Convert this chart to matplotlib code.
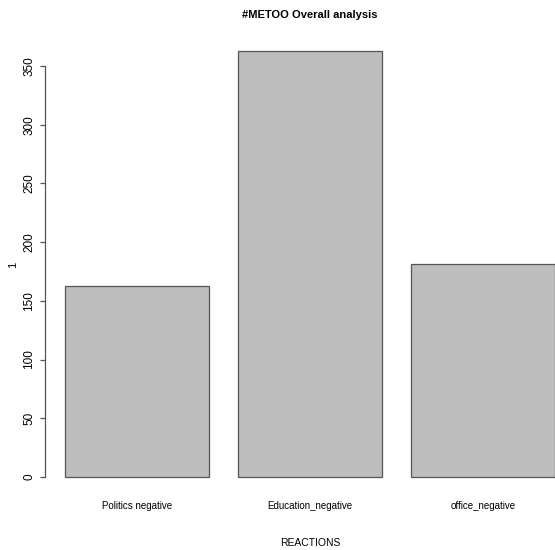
import matplotlib.pyplot as plt

# reaction counts
reactions = ['Politics negative', 'Education_negative', 'office_negative']
counts = [163, 363, 181]
yticks = [0, 50, 100, 150, 200, 250, 300, 350]

plt.rcParams['font.family'] = ['Liberation Sans', 'DejaVu Sans']

fig = plt.figure(figsize=(5.55, 5.5), dpi=100)
# R barplot layout: width 1, space 0.2, plot region runs past the right edge
ax = fig.add_axes([45.4/555, 56/550, (575-45.4)/555, 460.3/550])

x = [0.2 + 0.5 + i*1.2 for i in range(len(reactions))]
ax.bar(x, counts, width=1.0, color='#bebebe', edgecolor='#555555', linewidth=0.9)

ax.set_xlim(0.064, 3.736)
ax.set_ylim(-14.5, 377.5)

for s in ['top', 'right', 'bottom']:
    ax.spines[s].set_visible(False)
ax.spines['left'].set_bounds(0, 350)
ax.spines['left'].set_color('#555555')
ax.spines['left'].set_linewidth(0.9)

ax.set_yticks(yticks)
ax.set_yticklabels([str(v) for v in yticks], rotation=90, va='center', fontsize=8.5)
ax.tick_params(axis='y', length=3.6, width=0.9, color='#555555', pad=3.6)

ax.set_xticks(x)
ax.set_xticklabels(reactions, fontsize=7)
ax.tick_params(axis='x', length=0, pad=5)

ax.set_xlabel('REACTIONS', fontsize=7.5, va='center')
ax.xaxis.set_label_coords(310/555, 1 - 543/550, transform=fig.transFigure)
ax.set_ylabel('1', fontsize=8, va='center')
ax.yaxis.set_label_coords(13/555, 1 - 265/550, transform=fig.transFigure)

fig.text(310/555, 1 - 15/550, '#METOO Overall analysis', ha='center', va='center',
         fontsize=8, fontweight='bold')

fig.savefig('out.png', dpi=100)
